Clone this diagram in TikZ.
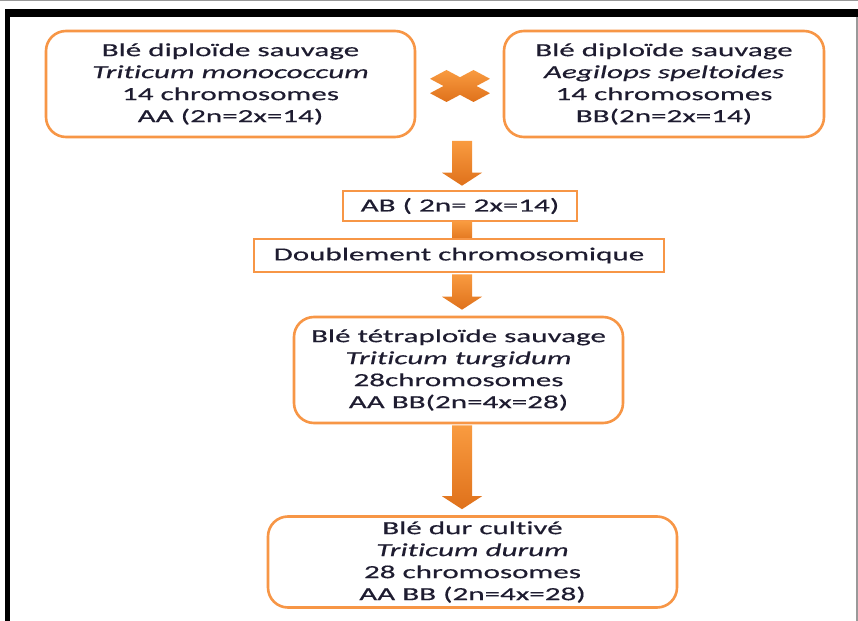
\documentclass[tikz,border=0pt]{standalone}
\usepackage{fontspec}
\setmainfont[FakeStretch=1.68, FakeBold=0.4, Ligatures=NoCommon]{Carlito}
\usetikzlibrary{calc}
\definecolor{boxor}{HTML}{F79646}
\definecolor{arrtop}{HTML}{F99B40}
\definecolor{arrbot}{HTML}{DF711B}
\definecolor{txt}{HTML}{1E1C30}
\tikzset{
  txtfont/.style={font=\fontsize{18.5bp}{22bp}\selectfont, text=txt},
  roundbox/.style={draw=boxor, line width=2.6bp, rounded corners=20bp, align=center, inner sep=0pt, txtfont},
  flatbox/.style={draw=boxor, line width=2.6bp, align=center, inner sep=0pt, txtfont, fill=white},
  arrowshade/.style={top color=arrtop, bottom color=arrbot},
}
\newcommand\blockarr[2]{% #1 start coordinate, #2 tip coordinate
  \shade[arrowshade] ($(#1)+(-10,0)$) -- ($(#1)+(10,0)$) -- ($(#2)+(10,-13)$) -- ($(#2)+(20,-13)$) -- (#2) -- ($(#2)+(-20,-13)$) -- ($(#2)+(-10,-13)$) -- cycle;}
\begin{document}
\begin{tikzpicture}[x=1bp,y=-1bp]
\useasboundingbox (0,0) rectangle (858,621);
\fill[white] (0,0) rectangle (858,621);
% frame
\fill[black] (5,9) rectangle (858,17);
\fill[black] (5,9) rectangle (10,621);
\fill[gray!80] (0,0) rectangle (858,1);
\fill[gray!80] (856,17) rectangle (857.5,621);
% boxes
\node[roundbox, minimum width=369bp, minimum height=106bp] (wa) at (230.5,84)
  {Blé diploïde sauvage\\ \textit{Triticum monococcum}\\ 14 chromosomes\\ AA (2n=2x=14)};
\node[roundbox, minimum width=320bp, minimum height=106bp] (wb) at (664,84)
  {Blé diploïde sauvage\\ \textit{Aegilops speltoides}\\ 14 chromosomes\\ BB(2n=2x=14)};
% cross
\node[minimum width=60bp, minimum height=32bp, inner sep=0pt] (cross) at (460,86) {};
\shade[top color=arrtop, bottom color=arrbot]
  ($(cross.center)+(-30+16.5,-16)$) -- ($(cross.center)+(0,-8.8)$) -- ($(cross.center)+(30-16.5,-16)$)
  -- ($(cross.center)+(30,-16+8.8)$) -- ($(cross.center)+(16.5,0)$) -- ($(cross.center)+(30,16-8.8)$)
  -- ($(cross.center)+(30-16.5,16)$) -- ($(cross.center)+(0,8.8)$) -- ($(cross.center)+(-30+16.5,16)$)
  -- ($(cross.center)+(-30,16-8.8)$) -- ($(cross.center)+(-16.5,0)$) -- ($(cross.center)+(-30,-16+8.8)$) -- cycle;
\node[flatbox, minimum width=234bp, minimum height=30bp] (ab) at (460,206) {AB ( 2n= 2x=14)};
% shaft between AB and doublement
\coordinate (s1) at ($(ab.south)+(2,0)$);
\coordinate (s2) at ($(s1)+(0,20)$);
\shade[arrowshade] ($(s1)+(-10,-1)$) rectangle ($(s2)+(10,0)$);
\node[flatbox, minimum width=410bp, minimum height=33bp] (dbl) at (459,255.5) {Doublement chromosomique};
\node[roundbox, minimum width=329bp, minimum height=106bp] (tetra) at (458.5,370)
  {Blé tétraploïde sauvage\\ \textit{Triticum turgidum}\\ 28chromosomes\\ AA BB(2n=4x=28)};
\node[roundbox, minimum width=409bp, minimum height=91bp] (dur) at (472.5,562)
  {Blé dur cultivé\\ \textit{Triticum durum}\\ 28 chromosomes\\ AA BB (2n=4x=28)};
% arrows
\coordinate (a1s) at (462,141);
\coordinate (a1e) at ($(ab.north)+(2,-4)$);
\blockarr{a1s}{a1e}
\coordinate (a2s) at ($(dbl.south)+(3,1)$);
\coordinate (a2e) at ($(tetra.north)+(3.5,-6)$);
\blockarr{a2s}{a2e}
\coordinate (a3s) at ($(tetra.south)+(3.5,1)$);
\coordinate (a3e) at ($(dur.north)+(-10.5,-6)$);
\blockarr{a3s}{a3e}
\end{tikzpicture}
\end{document}
